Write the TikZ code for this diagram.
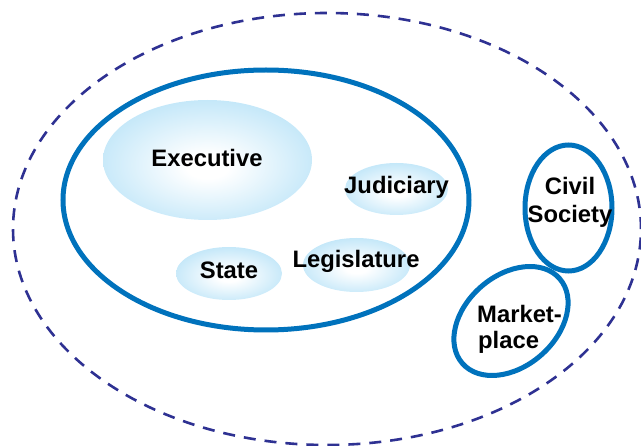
\documentclass[tikz,border=0pt]{standalone}
\usepackage{fontspec}
\setmainfont{Liberation Sans}
\usetikzlibrary{shapes.geometric}
\definecolor{ringblue}{RGB}{0,114,188}
\definecolor{dashnavy}{RGB}{46,49,146}
\definecolor{glowblue}{RGB}{160,217,245}
\pgfdeclareradialshading{glow}{\pgfpoint{0bp}{-3bp}}{color(0bp)=(white); color(5bp)=(white); color(40bp)=(glowblue); color(50bp)=(glowblue)}
\begin{document}
\begin{tikzpicture}[x=1pt,y=-1pt,
  lbl/.style={font=\fontsize{23.8}{28}\selectfont\bfseries, inner sep=0pt, text=black},
  ring/.style={ellipse, draw=ringblue, line width=5pt, inner sep=0pt},
  blob/.style={ellipse, shade, shading=glow, draw=none, inner sep=0pt},
  outerring/.style={ellipse, draw=dashnavy, line width=2.6pt, dash pattern=on 12pt off 9pt, inner sep=0pt}]
\useasboundingbox (0,0) rectangle (641,446);
% outer dashed boundary
\node[outerring, minimum width=628pt, minimum height=432pt] (world) at (327,229) {};
% state ring and its branches
\node[ring, minimum width=406pt, minimum height=260pt] (statering) at (266,200) {};
\node[blob, minimum width=209pt, minimum height=120pt] (exec) at (207.5,160) {};
\node[blob, minimum width=103pt, minimum height=52pt] (jud) at (396.5,189) {};
\node[blob, minimum width=106pt, minimum height=53pt] (stateblob) at (229,273.5) {};
\node[blob, minimum width=107pt, minimum height=54pt] (leg) at (356.5,265) {};
\node[lbl, anchor=base] (exect) at (207,167) {Executive};
\node[lbl, anchor=base] (judt) at (396.5,194) {Judiciary};
\node[lbl, anchor=base] (statet) at (229,279) {State};
\node[lbl, anchor=base] (legt) at (356,268) {Legislature};
% civil society
\node[ring, minimum width=87pt, minimum height=126pt] (civ) at (568.5,208) {};
\node[lbl, anchor=base] (civt1) at (570,195) {Civil};
\node[lbl, anchor=base] (civt2) at (570,223) {Society};
% marketplace
\node[ring, minimum width=129pt, minimum height=91pt, rotate=41] (mkt) at (511,321) {};
\node[lbl, anchor=base west] (mktt1) at (477,323) {Market-};
\node[lbl, anchor=base west] (mktt2) at (478,349) {place};
\end{tikzpicture}
\end{document}
